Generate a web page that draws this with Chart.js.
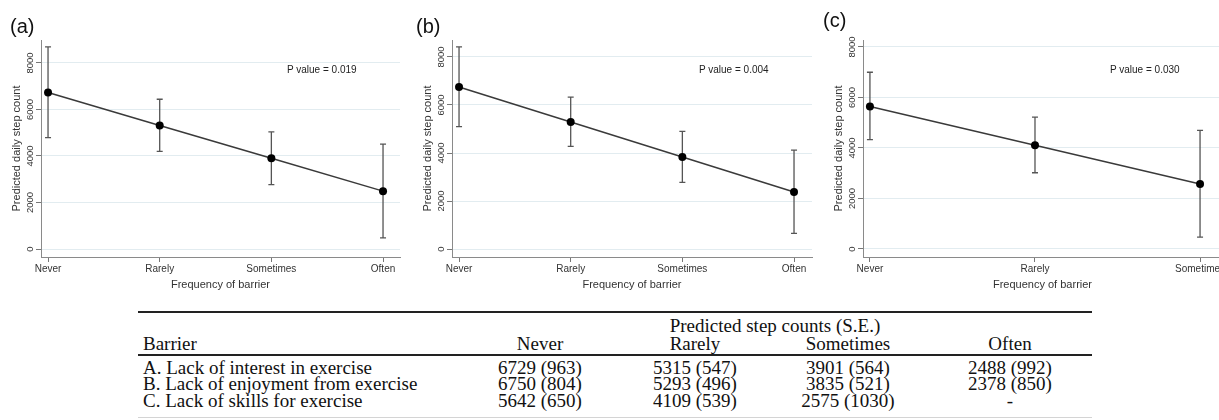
<!DOCTYPE html>
<html>
<head>
<meta charset="utf-8">
<script src="https://cdn.jsdelivr.net/npm/chart.js@4"></script>
<style>
  html, body { margin: 0; padding: 0; background: #fff; }
  body { width: 1219px; height: 420px; position: relative; overflow: hidden; font-family: 'Liberation Sans', Arial, sans-serif; }
  canvas { position: absolute; top: 0; }
  .plabel { position: absolute; font-size: 20px; color: #111; line-height: 20px; }
  .pval { position: absolute; font-size: 10px; color: #222; line-height: 12px; }
  .tbl { position: absolute; font-family: 'Liberation Serif', 'Times New Roman', serif; font-size: 19px; color: #111; line-height: 16px; white-space: nowrap; }
  .rule { position: absolute; background: #222; }
</style>
</head>
<body>
<canvas id="chartA" width="410" height="300" style="left:0px"></canvas>
<canvas id="chartB" width="410" height="300" style="left:410px"></canvas>
<canvas id="chartC" width="420" height="300" style="left:820px"></canvas>
<div id="overlay"></div>
<script>
// ---------- data ----------
var categories = ['Never', 'Rarely', 'Sometimes', 'Often'];
var yTicks = [0, 2000, 4000, 6000, 8000];

var meanA = [6729, 5315, 3901, 2488];
var seA = [963, 547, 564, 992];
var lowA = [4790, 4200, 2770, 480];
var highA = [8690, 6440, 5040, 4510];

var meanB = [6750, 5293, 3835, 2378];
var seB = [804, 496, 521, 850];
var lowB = [5100, 4280, 2780, 650];
var highB = [8420, 6330, 4900, 4120];

var meanC = [5642, 4109, 2575];
var seC = [650, 539, 1030];
var lowC = [4330, 3020, 470];
var highC = [7000, 5220, 4700];

var barriers = [
	'A. Lack of interest in exercise',
	'B. Lack of enjoyment from exercise',
	'C. Lack of skills for exercise'
];
var pValues = ['0.019', '0.004', '0.030'];

// ---------- error bars + rotated y labels ----------
var stataExtras = {
	id: 'stataExtras',
	beforeDatasetsDraw: function (chart) {
		var o = chart.options.plugins.stataExtras;
		var xs = chart.scales.x, ys = chart.scales.y, ctx = chart.ctx;
		ctx.save();
		ctx.strokeStyle = '#555';
		ctx.lineWidth = 1.3;
		for (var i = 0; i < o.low.length; i++) {
			var px = xs.getPixelForValue(i);
			var y1 = ys.getPixelForValue(o.low[i]);
			var y2 = ys.getPixelForValue(o.high[i]);
			ctx.beginPath();
			ctx.moveTo(px, y1); ctx.lineTo(px, y2);
			ctx.moveTo(px - 3, y1); ctx.lineTo(px + 3, y1);
			ctx.moveTo(px - 3, y2); ctx.lineTo(px + 3, y2);
			ctx.stroke();
		}
		ctx.restore();
	},
	afterDraw: function (chart) {
		var ys = chart.scales.y, ctx = chart.ctx, area = chart.chartArea;
		ctx.save();
		ctx.fillStyle = '#333';
		ctx.textAlign = 'center';
		ctx.textBaseline = 'middle';
		ctx.font = "9.5px 'Liberation Sans', Arial, sans-serif";
		yTicks.forEach(function (v) {
			ctx.save();
			ctx.translate(area.left - 10.5, ys.getPixelForValue(v));
			ctx.rotate(-Math.PI / 2);
			ctx.fillText(String(v), 0, 0);
			ctx.restore();
		});
		ctx.font = "11px 'Liberation Sans', Arial, sans-serif";
		ctx.translate(area.left - 24.5, (area.top + area.bottom) / 2);
		ctx.rotate(-Math.PI / 2);
		ctx.fillText('Predicted daily step count', 0, 0);
		ctx.restore();

		// x title
		ctx.save();
		ctx.fillStyle = '#333';
		ctx.textAlign = 'center';
		ctx.textBaseline = 'middle';
		ctx.font = "11px 'Liberation Sans', Arial, sans-serif";
		ctx.fillText('Frequency of barrier', (area.left + area.right) / 2, 285);
		ctx.restore();
	}
};

function makePanel(id, mean, low, high, yAxisW, padRight, xMin, xMax, yMin, yMax) {
	var pts = mean.map(function (v, i) { return { x: i, y: v }; });
	return new Chart(document.getElementById(id), {
		type: 'line',
		data: {
			datasets: [{
				data: pts,
				borderColor: '#3a3a3a',
				borderWidth: 1.5,
				pointRadius: 4,
				pointBackgroundColor: '#000',
				pointBorderColor: '#000',
				pointBorderWidth: 0,
				tension: 0
			}]
		},
		options: {
			responsive: false,
			animation: false,
			layout: { padding: { top: 40, right: padRight, left: 0, bottom: 0 } },
			plugins: {
				legend: { display: false },
				tooltip: { enabled: false },
				stataExtras: { low: low, high: high }
			},
			scales: {
				x: {
					type: 'linear',
					min: xMin,
					max: xMax,
					afterBuildTicks: function (s) {
						s.ticks = mean.map(function (v, i) { return { value: i }; });
					},
					afterFit: function (s) { s.height = 43; },
					border: { color: '#8a8a8a', width: 1 },
					grid: { drawOnChartArea: false, drawTicks: true, tickLength: 5, tickColor: '#777' },
					ticks: {
						autoSkip: false, maxRotation: 0, minRotation: 0, padding: 1,
						color: '#333',
						font: { family: "'Liberation Sans', Arial, sans-serif", size: 10 },
						callback: function (v) { return categories[v]; }
					}
				},
				y: {
					min: yMin,
					max: yMax,
					afterBuildTicks: function (s) {
						s.ticks = yTicks.map(function (v) { return { value: v }; });
					},
					afterFit: function (s) { s.width = yAxisW; },
					border: { color: '#8a8a8a', width: 1 },
					grid: { color: '#e2ecf0', lineWidth: 1, drawTicks: true, tickLength: 5, tickColor: '#777' },
					ticks: { display: false }
				}
			}
		},
		plugins: [stataExtras]
	});
}

makePanel('chartA', meanA, lowA, highA, 41, 10, -0.063, 3.152, -344, 8989);
makePanel('chartB', meanB, lowB, highB, 42, 8, -0.063, 3.161, -333, 8708);
makePanel('chartC', meanC, lowC, highC, 43, 18, -0.042, 2.133, -317, 8277);

// ---------- labels, p values, table ----------
var overlay = document.getElementById('overlay');
function addDiv(cls, text, css) {
	var d = document.createElement('div');
	d.className = cls;
	d.textContent = text;
	d.style.cssText = css;
	overlay.appendChild(d);
	return d;
}

addDiv('plabel', '(a)', 'left:10px;top:16px');
addDiv('plabel', '(b)', 'left:416px;top:16px');
addDiv('plabel', '(c)', 'left:823px;top:10px');
addDiv('pval', 'P value = ' + pValues[0], 'left:287px;top:64px');
addDiv('pval', 'P value = ' + pValues[1], 'left:699px;top:64px');
addDiv('pval', 'P value = ' + pValues[2], 'left:1110px;top:64px');

var colX = [540, 695, 848, 1010];
var rowsY = [368, 384, 401];
addDiv('rule', '', 'left:138px;top:311px;width:954px;height:2px');
addDiv('rule', '', 'left:138px;top:354px;width:954px;height:1.5px');
addDiv('rule', '', 'left:138px;top:417px;width:954px;height:1px;background:#d4d4d4');
addDiv('tbl', 'Predicted step counts (S.E.)', 'left:775px;top:318px;transform:translateX(-50%)');
addDiv('tbl', 'Barrier', 'left:143px;top:336px');
categories.forEach(function (c, j) {
	addDiv('tbl', c, 'left:' + colX[j] + 'px;top:336px;transform:translateX(-50%)');
});
var means = [meanA, meanB, meanC];
var ses = [seA, seB, seC];
barriers.forEach(function (b, r) {
	var top = rowsY[r] - 8;
	addDiv('tbl', b, 'left:143px;top:' + top + 'px');
	categories.forEach(function (c, j) {
		var txt = j < means[r].length ? means[r][j] + ' (' + ses[r][j] + ')' : '-';
		addDiv('tbl', txt, 'left:' + colX[j] + 'px;top:' + top + 'px;transform:translateX(-50%)');
	});
});
</script>
</body>
</html>
